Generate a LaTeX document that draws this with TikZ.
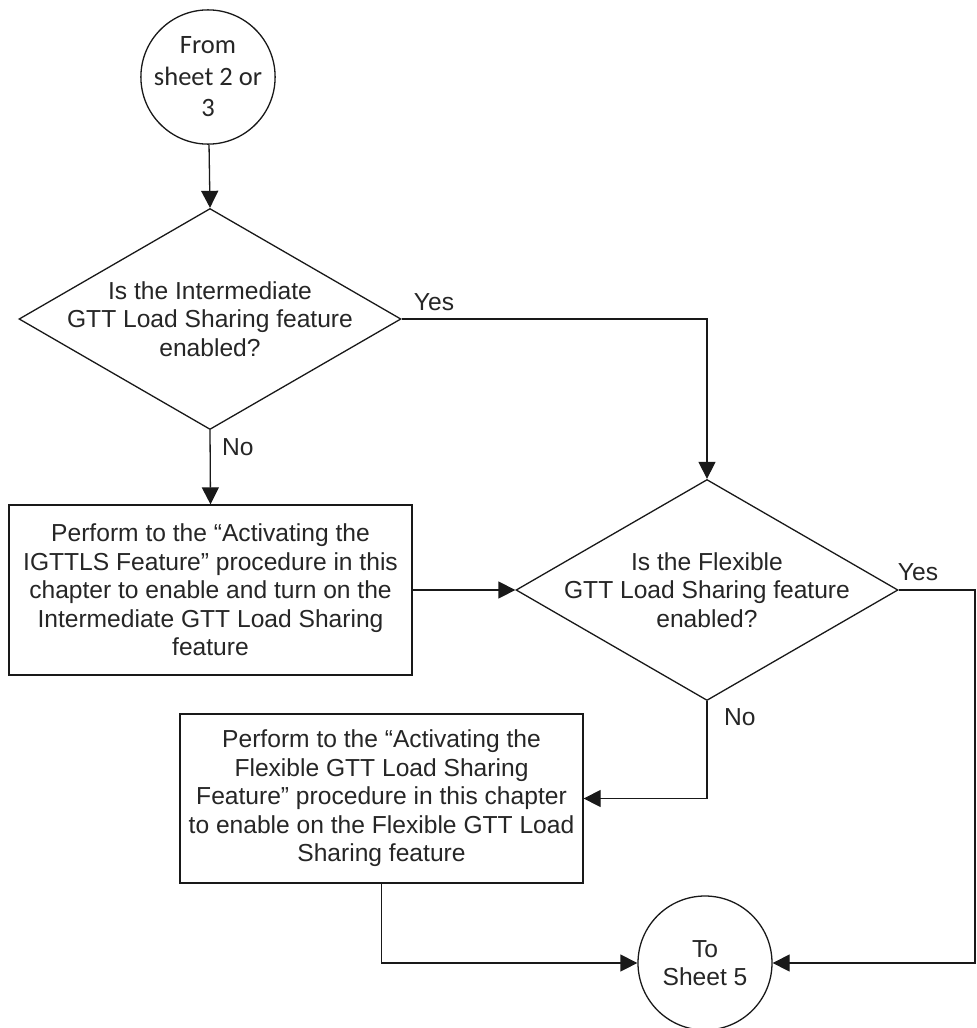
\documentclass[tikz,border=0pt]{standalone}
\usepackage{fontspec}
\setmainfont{Liberation Sans}
\newfontfamily\calfont{Carlito}
\usetikzlibrary{shapes.geometric,arrows.meta}
\begin{document}
\begin{tikzpicture}[x=1pt,y=-1pt,
  every node/.style={font=\fontsize{24.6}{28.5}\selectfont, text=black!85},
  ln/.style={draw=black!90, line width=1.3pt},
  arr/.style={ln, -{Triangle[length=17pt,width=17pt]}},
  circ/.style={ln, circle, minimum size=134pt, inner sep=0pt, align=center},
  dia/.style={ln, diamond, minimum width=382pt, minimum height=221pt, inner sep=0pt},
  boxn/.style={ln, rectangle, minimum width=403pt, minimum height=170pt, inner sep=0pt, align=center},
  lab/.style={inner sep=0pt},
  dtext/.style={align=center, inner sep=0pt}
]
\useasboundingbox (0,0) rectangle (977,1028);
\fill[white] (0,0) rectangle (977,1028);

\node[circ, font=\calfont\fontsize{26.5}{31.5}\selectfont] (c1) at (208,77) {From\\sheet 2 or\\3};

\node[dia, label={[dtext]center:{Is the Intermediate\\GTT Load Sharing feature\\enabled?}}] (d1) at (210,319) {};

\node[boxn] (b1) at (210.5,590) {Perform to the “Activating the\\IGTTLS Feature” procedure in this\\chapter to enable and turn on the\\Intermediate GTT Load Sharing\\feature};

\node[dia, label={[dtext]center:{Is the Flexible\\GTT Load Sharing feature\\enabled?}}] (d2) at (707,590) {};

\node[boxn, minimum height=169pt] (b2) at (381.5,798.5) {Perform to the “Activating the\\Flexible GTT Load Sharing\\Feature” procedure in this chapter\\to enable on the Flexible GTT Load\\Sharing feature};

\node[circ] (c2) at (705,963) {To\\Sheet 5};

\coordinate (redge) at (975,590);

\draw[arr] (c1) -- (d1.north);
\draw[arr] (d1.east) -| (d2.north);
\draw[arr] (d1.south) -- (b1.north);
\draw[arr] (b1.east) -- (d2.west);
\draw[arr] (d2.south) |- (b2.east);
\draw[arr] (d2.east) -- (redge) |- (c2.east);
\draw[arr] (b2.south) |- (c2.west);

\node[lab] (yes1) at (434,302) {Yes};
\node[lab, anchor=west] (no1) at (222,447) {No};
\node[lab] (yes2) at (918,572) {Yes};
\node[lab, anchor=west] (no2) at (724,717) {No};
\end{tikzpicture}
\end{document}
